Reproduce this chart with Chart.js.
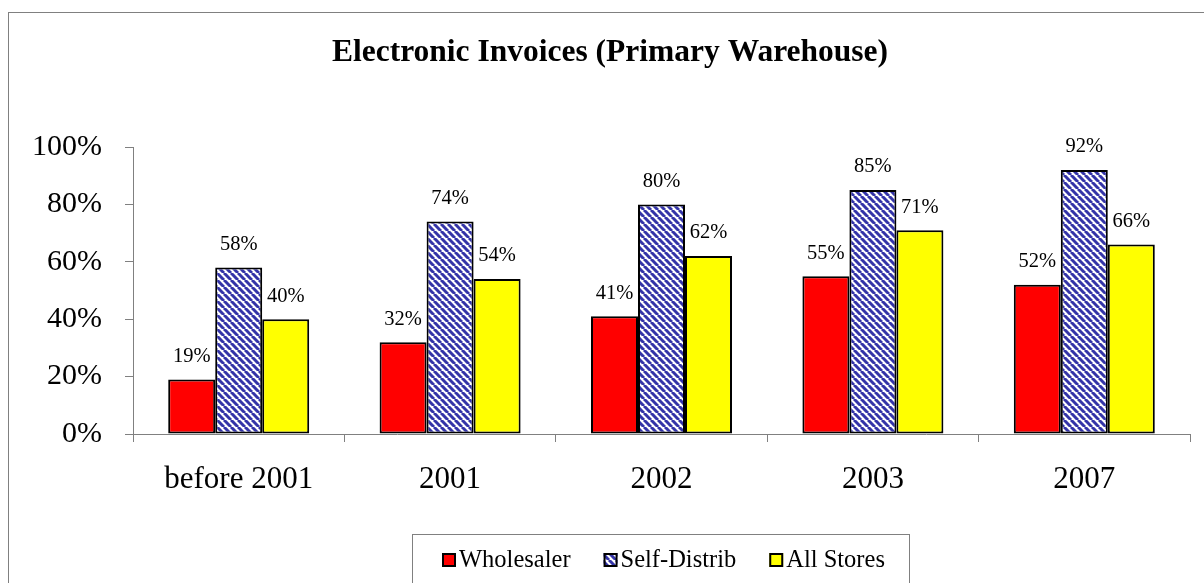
<!DOCTYPE html>
<html>
<head>
<meta charset="utf-8">
<script src="https://cdn.jsdelivr.net/npm/chart.js@4/dist/chart.umd.min.js"></script>
<style>
  html, body { margin: 0; padding: 0; background: #fff; overflow: hidden; }
  #frame { position: absolute; left: 8px; top: 12px; width: 1300px; height: 700px; border: 1px solid #808080; }
  #chart { position: absolute; left: 0; top: 0; }
</style>
</head>
<body>
<div id="frame"></div>
<canvas id="chart" width="1204" height="583"></canvas>
<script>
var years = ['before 2001', '2001', '2002', '2003', '2007'];
var wholesaler = [19, 32, 41, 55, 52];
var selfDistrib = [58, 74, 80, 85, 92];
var allStores = [40, 54, 62, 71, 66];
var yTicks = [0, 20, 40, 60, 80, 100];

var serif = "'Liberation Serif', 'Times New Roman', serif";

// navy diagonal hatch for Self-Distrib
function hatch() {
  var c = document.createElement('canvas');
  c.width = 7; c.height = 7;
  var g = c.getContext('2d');
  g.fillStyle = '#fff';
  g.fillRect(0, 0, 7, 7);
  g.strokeStyle = '#3434a8';
  g.lineWidth = 3;
  [-7, 0, 7].forEach(function (o) {
    g.beginPath();
    g.moveTo(o, 0);
    g.lineTo(o + 7, 7);
    g.stroke();
  });
  return g.createPattern(c, 'repeat');
}
var ctx0 = document.querySelector('#chart').getContext('2d');
var stripes = hatch();

var valueLabels = {
  id: 'valueLabels',
  afterDatasetsDraw: function (chart) {
    var ctx = chart.ctx;
    ctx.save();
    ctx.font = '20.5px ' + serif;
    ctx.fillStyle = '#000';
    ctx.textAlign = 'center';
    ctx.textBaseline = 'middle';
    chart.data.datasets.forEach(function (ds, i) {
      chart.getDatasetMeta(i).data.forEach(function (bar, j) {
        ctx.fillText(ds.data[j] + '%', bar.x, bar.y - 23);
      });
    });
    ctx.restore();
  }
};

var boxLegend = {
  id: 'boxLegend',
  afterDraw: function (chart) {
    var ctx = chart.ctx;
    ctx.save();
    ctx.strokeStyle = '#808080';
    ctx.lineWidth = 1;
    ctx.strokeRect(412.5, 534.5, 497, 80);
    ctx.font = '24.5px ' + serif;
    ctx.textBaseline = 'middle';
    var x = 442;
    chart.data.datasets.forEach(function (ds) {
      ctx.fillStyle = ds.backgroundColor;
      ctx.fillRect(x, 553, 14, 14);
      ctx.strokeStyle = '#000';
      ctx.lineWidth = 2;
      ctx.strokeRect(x + 1, 554, 12, 12);
      ctx.fillStyle = '#000';
      ctx.fillText(ds.label, x + 17, 561);
      x += 17 + ctx.measureText(ds.label).width + 33;
    });
    ctx.restore();
  }
};

new Chart(ctx0, {
  type: 'bar',
  data: {
    labels: years,
    datasets: [
      { label: 'Wholesaler', data: wholesaler, backgroundColor: '#ff0000' },
      { label: 'Self-Distrib', data: selfDistrib, backgroundColor: stripes },
      { label: 'All Stores', data: allStores, backgroundColor: '#ffff00' }
    ]
  },
  options: {
    responsive: false,
    animation: false,
    layout: { padding: { left: 30, right: 14, top: 0, bottom: 0 } },
    datasets: {
      bar: {
        borderColor: '#000',
        borderWidth: 2,
        borderSkipped: false,
        categoryPercentage: 0.667,
        barPercentage: 1
      }
    },
    plugins: {
      legend: { display: false },
      tooltip: { enabled: false },
      title: {
        display: true,
        text: 'Electronic Invoices (Primary Warehouse)',
        color: '#000',
        font: { family: serif, size: 31.5, weight: 'bold', lineHeight: 1.2 },
        padding: { top: 34, bottom: 75.2 }
      }
    },
    scales: {
      x: {
        grid: { drawOnChartArea: false, tickLength: 8, color: '#808080', offset: true },
        border: { color: '#808080', width: 1 },
        ticks: { color: '#000', font: { family: serif, size: 31 }, padding: 19, maxRotation: 0 },
        afterFit: function (s) { s.height = 149; }
      },
      y: {
        min: 0,
        max: 100,
        grid: { drawOnChartArea: false, tickLength: 8, color: '#808080' },
        border: { color: '#808080', width: 1 },
        afterBuildTicks: function (s) { s.ticks = yTicks.map(function (v) { return { value: v }; }); },
        ticks: {
          color: '#000',
          font: { family: serif, size: 30 },
          padding: 23,
          callback: function (v) { return v + '%'; }
        },
        afterFit: function (s) { s.width = 103; }
      }
    }
  },
  plugins: [valueLabels, boxLegend]
});
</script>
</body>
</html>
